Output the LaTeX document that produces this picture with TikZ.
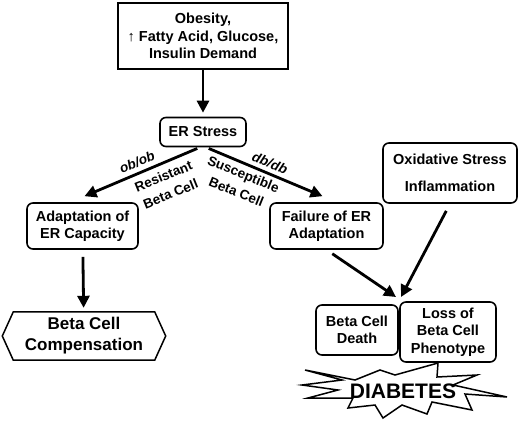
\documentclass[tikz,border=0pt]{standalone}
\usepackage{fontspec}
\setmainfont{Liberation Sans}
\usetikzlibrary{arrows.meta, positioning}

\begin{document}
\begin{tikzpicture}[x=1pt, y=1pt, node distance=96pt, on grid, >={Triangle[length=12pt,width=12pt]},
      every node/.style={font=\bfseries\fontsize{14.5}{17.5}\selectfont, align=center, inner sep=0pt},
      box/.style={draw, rounded corners=6pt, line width=1.6pt},
      flow/.style={->, line width=2.8pt},
      tag/.style={font=\bfseries\fontsize{13.5}{19}\selectfont}]
      \useasboundingbox (0,0) rectangle (520,-421);
      \node[draw, line width=1.8pt, minimum width=170pt, minimum height=66pt] (obesity) at (203,-36)
        {Obesity,\\↑ Fatty Acid, Glucose,\\Insulin Demand};
      \node[box, minimum width=86pt, minimum height=29pt, below=96pt of obesity] (er) {ER Stress};
      \node[box, minimum width=111pt, minimum height=46pt] (adapt) at (82.5,-226) {Adaptation of\\ER Capacity};
      \node[box, minimum width=113pt, minimum height=46pt, right=244pt of adapt] (fail) {Failure of ER\\Adaptation};
      \node[box, minimum width=134pt, minimum height=60pt, font=\bfseries\fontsize{14.5}{27}\selectfont] (oxid)
        at (450,-173) {Oxidative Stress\\Inflammation};
      \node[minimum width=163pt, minimum height=48pt, font=\bfseries\fontsize{17}{21}\selectfont] (comp)
        at (84,-336) {Beta Cell\\Compensation};
      \node[box, minimum width=82pt, minimum height=50pt] (death) at (357,-330) {Beta Cell\\Death};
      \node[box, minimum width=96pt, minimum height=60pt] (loss) at (448,-332) {Loss of\\Beta Cell\\Phenotype};
      \node[font=\bfseries\fontsize{21}{21}\selectfont] (diab) at (403,-391) {DIABETES};
      \coordinate (hit) at (398.5,-297);
      % hexagon and starburst
      \draw[line width=1.5pt] (comp.west) -- ([xshift=11pt]comp.north west) -- ([xshift=-11pt]comp.north east)
        -- (comp.east) -- ([xshift=-11pt]comp.south east) -- ([xshift=11pt]comp.south west) -- cycle;
      \draw[line width=1.5pt, line join=miter] (305,-370) -- (355,-380) -- (380,-370) -- (395,-375) -- (438,-363)
        -- (437,-377) -- (477,-375) -- (453,-385) -- (507,-397) -- (465,-394) -- (472,-410) -- (432,-402)
        -- (427,-414) -- (402,-405) -- (383,-418) -- (375,-405) -- (348,-408) -- (353,-398) -- (308,-398)
        -- (338,-390) -- (302,-385) -- (342,-380) -- cycle;
      % arrows
      \draw[flow, shorten >=4pt] (obesity) -- (er);
      \draw[flow, shorten <=3pt] ([xshift=-3pt]er.south) -- ([xshift=2pt,yshift=6pt]adapt.north);
      \draw[flow, shorten <=3pt] ([xshift=3pt]er.south) -- ([xshift=-4pt,yshift=6pt]fail.north);
      \draw[flow, shorten <=7pt, shorten >=4pt] (adapt) -- (comp);
      \draw[flow, shorten <=7pt] (fail.south) -- ([xshift=-2.5pt]hit);
      \draw[flow, shorten <=8pt] (oxid.south) -- ([xshift=2.5pt]hit);
      \node[tag, rotate=22] (obob) at (137,-162) {\itshape ob/ob};
      \node[tag, rotate=22] (resist) at (167,-185) {Resistant\\Beta Cell};
      \node[tag, rotate=-22] (dbdb) at (270,-163) {\itshape db/db};
      \node[tag, rotate=-22] (suscept) at (240,-183) {Susceptible\\Beta Cell};
\end{tikzpicture}
\end{document}
